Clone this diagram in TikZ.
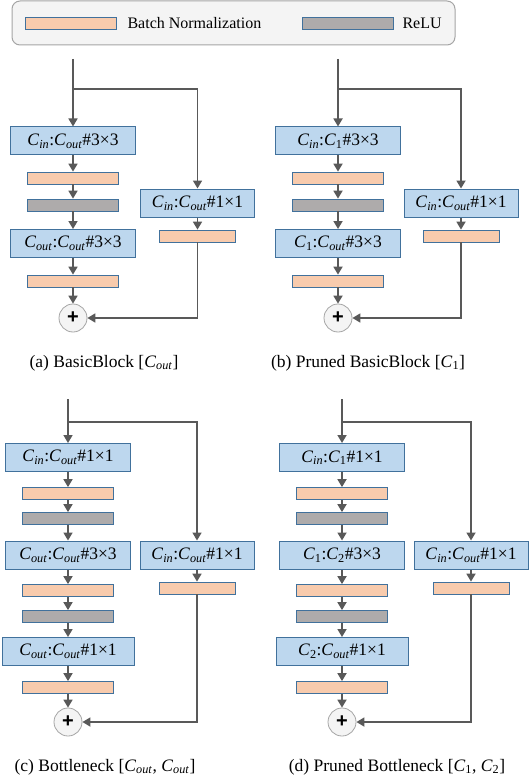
\documentclass[tikz,border=0pt]{standalone}
\usepackage{fontspec}
\setmainfont{Liberation Serif}
\newfontfamily\plusfont{Liberation Sans}
\usepackage{tikz}
\usetikzlibrary{arrows.meta}

\definecolor{convfill}{HTML}{BDD7EE}
\definecolor{convline}{HTML}{41719C}
\definecolor{bnfill}{HTML}{F8CBAD}
\definecolor{relufill}{HTML}{AEABAB}
\definecolor{flow}{HTML}{595959}
\definecolor{legendfill}{HTML}{F4F4F4}
\definecolor{legendline}{HTML}{A5A5A5}

\newcommand{\chan}[1]{\textit{C}\textsubscript{#1}}
\newcommand{\cin}{\chan{\textit{in}}}
\newcommand{\cout}{\chan{\textit{out}}}

\begin{document}
\begin{tikzpicture}[x=1pt,y=-1pt,
	conv/.style={draw=convline,fill=convfill,line width=1pt,minimum width=125pt,minimum height=28pt,inner sep=0pt,font=\fontsize{17.5}{17.5}\selectfont},
	convside/.style={conv,minimum width=114pt},
	bn/.style={draw=convline,fill=bnfill,line width=0.8pt,minimum width=91pt,minimum height=12pt,inner sep=0pt},
	bnside/.style={bn,minimum width=76pt},
	relu/.style={bn,fill=relufill},
	addop/.style={circle,draw=legendline,fill=legendfill,line width=0.8pt,minimum size=28pt,inner sep=0pt,font=\plusfont\bfseries\fontsize{20}{20}\selectfont},
	caption/.style={font=\fontsize{17.5}{17.5}\selectfont},
	flowline/.style={draw=flow,line width=1.7pt},
	>={Triangle[length=8pt,width=9pt]}]
	
	\useasboundingbox (0,0) rectangle (530,778);
	
	\draw [draw=legendline,fill=legendfill,line width=1pt,rounded corners=8pt] (12,1) rectangle (455,45);
	\node [bn] (legbn) at (71,23) {};
	\node [anchor=west,font=\fontsize{16}{16}\selectfont] (legbntext) at (124,23) {Batch Normalization};
	\node [relu] (legrelu) at (347.5,23) {};
	\node [anchor=west,font=\fontsize{16}{16}\selectfont] (legrelutext) at (399,23) {ReLU};
	
	\coordinate (ain) at (73,59);
	\coordinate (asplit) at (73,89);
	\node [conv] (a1) at (73,141) {\cin:\cout\#3×3};
	\node [bn] (a2) at (73,178) {};
	\node [relu] (a3) at (73,205) {};
	\node [conv] (a4) at (73,243.5) {\cout:\cout\#3×3};
	\node [bn] (a5) at (73,281) {};
	\node [addop] (aplus) at (73,318) {+};
	\node [convside] (ar1) at (197.5,203) {\cin:\cout\#1×1};
	\node [bnside] (ar2) at (197.5,236) {};
	\node [caption] (acap) at (104,363) {(a) BasicBlock [\cout]};
	
	\draw [->,flowline] (ain) -- (a1);
	\draw [->,flowline] (asplit) -| (ar1);
	\draw [->,flowline] (a1) -- (a2);
	\draw [->,flowline] (a2) -- (a3);
	\draw [->,flowline] (a3) -- (a4);
	\draw [->,flowline] (a4) -- (a5);
	\draw [->,flowline] (a5) -- (aplus);
	\draw [->,flowline] (ar1) -- (ar2);
	\draw [->,flowline] (ar2) |- (aplus);
	
	\coordinate (bin) at (338,59);
	\coordinate (bsplit) at (338,89);
	\node [conv] (b1) at (338,141) {\cin:\chan{1}\#3×3};
	\node [bn] (b2) at (338,178) {};
	\node [relu] (b3) at (338,205) {};
	\node [conv] (b4) at (338,243.5) {\chan{1}:\cout\#3×3};
	\node [bn] (b5) at (338,281) {};
	\node [addop] (bplus) at (338,318) {+};
	\node [convside] (br1) at (461,203) {\cin:\cout\#1×1};
	\node [bnside] (br2) at (461,236) {};
	\node [caption] (bcap) at (368,363) {(b) Pruned BasicBlock [\chan{1}]};
	
	\draw [->,flowline] (bin) -- (b1);
	\draw [->,flowline] (bsplit) -| (br1);
	\draw [->,flowline] (b1) -- (b2);
	\draw [->,flowline] (b2) -- (b3);
	\draw [->,flowline] (b3) -- (b4);
	\draw [->,flowline] (b4) -- (b5);
	\draw [->,flowline] (b5) -- (bplus);
	\draw [->,flowline] (br1) -- (br2);
	\draw [->,flowline] (br2) |- (bplus);
	
	\coordinate (cin) at (68,399);
	\coordinate (csplit) at (68,422);
	\node [conv] (c1) at (68,457.5) {\cin:\cout\#1×1};
	\node [bn] (c2) at (68,493.5) {};
	\node [relu] (c3) at (68,518.5) {};
	\node [conv] (c4) at (68,555) {\cout:\cout\#3×3};
	\node [bn] (c5) at (68,590.5) {};
	\node [relu] (c6) at (68,616.5) {};
	\node [conv,minimum width=132pt] (c7) at (68,651.5) {\cout:\cout\#1×1};
	\node [bn] (c8) at (68,687.5) {};
	\node [addop] (cplus) at (68,722) {+};
	\node [convside] (cr1) at (197,555) {\cin:\cout\#1×1};
	\node [bnside] (cr2) at (197,588) {};
	\node [caption] (ccap) at (105,767) {(c) Bottleneck [\cout, \cout]};
	
	\draw [->,flowline] (cin) -- (c1);
	\draw [->,flowline] (csplit) -| (cr1);
	\draw [->,flowline] (c1) -- (c2);
	\draw [->,flowline] (c2) -- (c3);
	\draw [->,flowline] (c3) -- (c4);
	\draw [->,flowline] (c4) -- (c5);
	\draw [->,flowline] (c5) -- (c6);
	\draw [->,flowline] (c6) -- (c7);
	\draw [->,flowline] (c7) -- (c8);
	\draw [->,flowline] (c8) -- (cplus);
	\draw [->,flowline] (cr1) -- (cr2);
	\draw [->,flowline] (cr2) |- (cplus);
	
	\coordinate (din) at (342,399);
	\coordinate (dsplit) at (342,422);
	\node [conv] (d1) at (342,457.5) {\cin:\chan{1}\#1×1};
	\node [bn] (d2) at (342,493.5) {};
	\node [relu] (d3) at (342,518.5) {};
	\node [conv] (d4) at (342,555) {\chan{1}:\chan{2}\#3×3};
	\node [bn] (d5) at (342,590.5) {};
	\node [relu] (d6) at (342,616.5) {};
	\node [conv,minimum width=132pt] (d7) at (342,651.5) {\chan{2}:\cout\#1×1};
	\node [bn] (d8) at (342,687.5) {};
	\node [addop] (dplus) at (342,722) {+};
	\node [convside] (dr1) at (471,555) {\cin:\cout\#1×1};
	\node [bnside] (dr2) at (471,588) {};
	\node [caption] (dcap) at (397,767) {(d) Pruned Bottleneck [\chan{1}, \chan{2}]};
	
	\draw [->,flowline] (din) -- (d1);
	\draw [->,flowline] (dsplit) -| (dr1);
	\draw [->,flowline] (d1) -- (d2);
	\draw [->,flowline] (d2) -- (d3);
	\draw [->,flowline] (d3) -- (d4);
	\draw [->,flowline] (d4) -- (d5);
	\draw [->,flowline] (d5) -- (d6);
	\draw [->,flowline] (d6) -- (d7);
	\draw [->,flowline] (d7) -- (d8);
	\draw [->,flowline] (d8) -- (dplus);
	\draw [->,flowline] (dr1) -- (dr2);
	\draw [->,flowline] (dr2) |- (dplus);
	
\end{tikzpicture}
\end{document}
